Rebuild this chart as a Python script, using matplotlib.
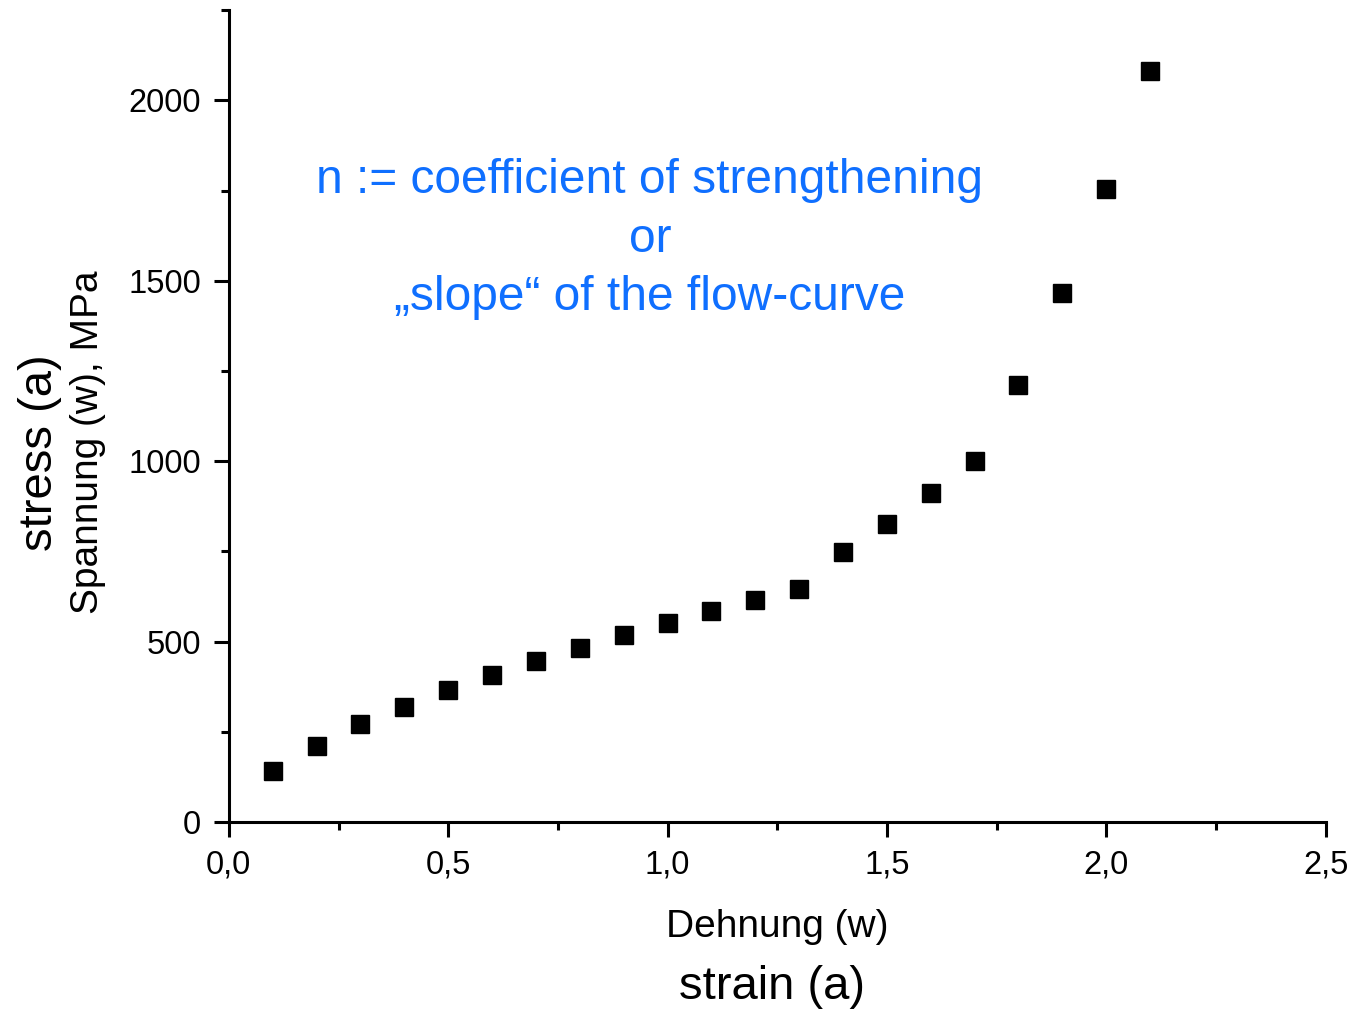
import matplotlib
matplotlib.use('Agg')
import matplotlib.pyplot as plt
from matplotlib.ticker import MultipleLocator, FuncFormatter

plt.rcParams['font.family'] = ['Liberation Sans', 'DejaVu Sans']

# strain vs. stress (MPa)
strain = [0.1, 0.2, 0.3, 0.4, 0.5, 0.6, 0.7, 0.8, 0.9, 1.0, 1.1,
          1.2, 1.3, 1.4, 1.5, 1.6, 1.7, 1.8, 1.9, 2.0, 2.1]
stress = [141, 210, 271, 318, 365, 407, 445, 481, 517, 550, 584,
          614, 645, 747, 827, 913, 999, 1212, 1466, 1754, 2080]

note = 'n := coefficient of strengthening\nor\n\u201eslope\u201c of the flow-curve'
blue = '#0f6fff'

fig = plt.figure(figsize=(13.54, 10.11), dpi=100)
ax = fig.add_axes([0.169, 0.187, 0.81, 0.803])

ax.plot(strain, stress, 's', color='black', markersize=13, linestyle='none')

ax.set_xlim(0, 2.5)
ax.set_ylim(0, 2250)
ax.xaxis.set_major_locator(MultipleLocator(0.5))
ax.xaxis.set_minor_locator(MultipleLocator(0.25))
ax.yaxis.set_major_locator(MultipleLocator(500))
ax.yaxis.set_minor_locator(MultipleLocator(250))
ax.xaxis.set_major_formatter(FuncFormatter(lambda v, p: f'{v:.1f}'.replace('.', ',')))

for s in ['top', 'right']:
    ax.spines[s].set_visible(False)
for s in ['left', 'bottom']:
    ax.spines[s].set_linewidth(2.2)

ax.tick_params(which='major', direction='out', length=11, width=2.2, labelsize=23.5, pad=9)
ax.tick_params(which='minor', direction='out', length=6, width=2.2)

fig.text(0.48, 0.7636, note, color=blue, fontsize=34.5, ha='center', va='center',
         multialignment='center', linespacing=1.38)

fig.text(0.0295, 0.552, 'stress (a)', fontsize=34, rotation=90, ha='center', va='center')
fig.text(0.065, 0.563, 'Spannung (w), MPa', fontsize=28, rotation=90, ha='center', va='center')
fig.text(0.574, 0.083, 'Dehnung (w)', fontsize=28, ha='center', va='center')
fig.text(0.570, 0.024, 'strain (a)', fontsize=34, ha='center', va='center')

fig.savefig('out.png', dpi=100)
